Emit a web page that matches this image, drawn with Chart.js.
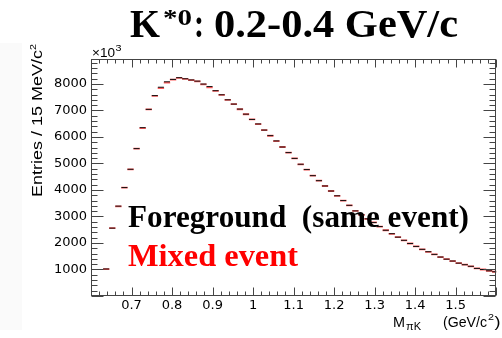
<!DOCTYPE html>
<html>
<head>
<meta charset="utf-8">
<script src="https://cdn.jsdelivr.net/npm/chart.js@4.4.1/dist/chart.umd.min.js"></script>
<style>
  html, body { margin: 0; padding: 0; background: #ffffff; }
  #wrap { position: relative; width: 502px; height: 338px; overflow: hidden; }
  #strip { position: absolute; left: 0; top: 43px; width: 22px; height: 287px; background: #fafafa; }
  canvas { position: absolute; left: 0; top: 0; }
</style>
</head>
<body>
<div id="wrap">
  <div id="strip"></div>
  <canvas id="c" width="502" height="338"></canvas>
</div>
<script>
// ---- data ----
const massBins = [
  0.6375, 0.6525, 0.6675, 0.6825, 0.6975, 0.7125, 0.7275, 0.7425, 0.7575, 0.7725,
  0.7875, 0.8025, 0.8175, 0.8325, 0.8475, 0.8625, 0.8775, 0.8925, 0.9075, 0.9225,
  0.9375, 0.9525, 0.9675, 0.9825, 0.9975, 1.0125, 1.0275, 1.0425, 1.0575, 1.0725,
  1.0875, 1.1025, 1.1175, 1.1325, 1.1475, 1.1625, 1.1775, 1.1925, 1.2075, 1.2225,
  1.2375, 1.2525, 1.2675, 1.2825, 1.2975, 1.3125, 1.3275, 1.3425, 1.3575, 1.3725,
  1.3875, 1.4025, 1.4175, 1.4325, 1.4475, 1.4625, 1.4775, 1.4925, 1.5075, 1.5225,
  1.5375, 1.5525, 1.5675, 1.5825, 1.5975
];
const foreground = [
  1020, 2560, 3390, 4090, 4780, 5560, 6350, 7040, 7560, 7875,
  8080, 8170, 8235, 8195, 8150, 8105, 7995, 7900, 7745, 7590,
  7400, 7240, 7050, 6860, 6660, 6490, 6260, 6050, 5850, 5620,
  5410, 5190, 4970, 4770, 4540, 4350, 4150, 3960, 3780, 3600,
  3420, 3210, 3060, 2910, 2770, 2620, 2480, 2350, 2220, 2100,
  1980, 1870, 1760, 1670, 1570, 1470, 1390, 1320, 1240, 1180,
  1120, 1040, 1000, 950, 915
];
const mixed = [
  1010, 2560, 3380, 4090, 4780, 5560, 6330, 7040, 7550, 7840,
  8050, 8160, 8225, 8190, 8145, 8095, 7985, 7870, 7740, 7590,
  7395, 7235, 7045, 6855, 6660, 6485, 6255, 6045, 5845, 5620,
  5405, 5190, 4965, 4765, 4540, 4350, 4150, 3960, 3775, 3600,
  3415, 3210, 3060, 2910, 2775, 2620, 2480, 2345, 2220, 2095,
  1980, 1870, 1760, 1665, 1570, 1470, 1390, 1315, 1240, 1180,
  1115, 1045, 1000, 950, 915
];
const xTicks = [0.7, 0.8, 0.9, 1.0, 1.1, 1.2, 1.3, 1.4, 1.5];
const yTicks = [1000, 2000, 3000, 4000, 5000, 6000, 7000, 8000];
const xRange = [0.6, 1.6];
const yRange = [0, 8940];

// ---- helpers ----
function fitText(ctx, text, x, y, w, font, color) {
  ctx.save();
  ctx.font = font;
  ctx.fillStyle = color;
  ctx.textAlign = 'left';
  ctx.textBaseline = 'alphabetic';
  const m = ctx.measureText(text).width;
  ctx.translate(x, y);
  ctx.scale(w / m, 1);
  ctx.fillText(text, 0, 0);
  ctx.restore();
}

const framePlugin = {
  id: 'rootFrame',
  afterDatasetsDraw(chart) {
    const ctx = chart.ctx;
    const a = chart.chartArea;
    const xs = chart.scales.x, ys = chart.scales.y;
    ctx.save();
    ctx.strokeStyle = '#444';
    ctx.lineWidth = 1;
    const L = Math.round(a.left) + 0.5, R = Math.round(a.right) - 0.5;
    const T = Math.round(a.top) + 0.5, B = Math.round(a.bottom) - 0.5;
    ctx.strokeRect(L, T, R - L, B - T);
    ctx.beginPath();
    // x ticks (every 0.02, major every 0.1)
    for (let i = 0; i <= 50; i++) {
      const v = xRange[0] + i * 0.02;
      const px = Math.round(xs.getPixelForValue(v)) + 0.5;
      const major = i % 5 === 0;
      const len = major ? 8 : 4;
      ctx.moveTo(px, B); ctx.lineTo(px, B - len);
      ctx.moveTo(px, T); ctx.lineTo(px, T + len);
    }
    // y ticks (every 200, major every 1000)
    for (let v = 0; v <= yRange[1]; v += 200) {
      const py = Math.round(ys.getPixelForValue(v)) + 0.5;
      const major = v % 1000 === 0;
      const len = major ? 12 : 6;
      ctx.moveTo(L, py); ctx.lineTo(L + len, py);
      ctx.moveTo(R, py); ctx.lineTo(R - len, py);
    }
    ctx.stroke();
    ctx.restore();
  },
  afterDraw(chart) {
    const ctx = chart.ctx;
    const serifB = (s) => 'bold ' + s + 'px "Liberation Serif", "Times New Roman", serif';
    const sans = (s) => s + 'px "Liberation Sans", Arial, sans-serif';
    // title
    fitText(ctx, 'K', 130, 37, 30, serifB(40), '#000');
    fitText(ctx, '*0', 163, 25, 29, serifB(23), '#000');
    fitText(ctx, ':', 194, 37, 10, serifB(40), '#000');
    fitText(ctx, '0.2-0.4 GeV/c', 214, 37, 244, serifB(40), '#000');
    // legend-like labels
    fitText(ctx, 'Foreground  (same event)', 128, 227, 341, serifB(31), '#000');
    fitText(ctx, 'Mixed event', 128, 266, 170, serifB(31), '#ff0000');
    // x10^3
    fitText(ctx, '\u00d710', 92, 57, 23, sans(12), '#000');
    fitText(ctx, '3', 115.5, 51, 6, sans(9), '#000');
    // x axis title
    fitText(ctx, 'M', 393, 327, 12, sans(14), '#000');
    fitText(ctx, '\u03c0K', 406, 330, 15, sans(10), '#000');
    fitText(ctx, '(GeV/c', 443, 327, 44, sans(14), '#000');
    fitText(ctx, '2', 488, 320, 6, sans(9), '#000');
    fitText(ctx, ')', 494.5, 327, 6, sans(14), '#000');
    // y axis title (rotated)
    ctx.save();
    ctx.translate(42, 197);
    ctx.rotate(-Math.PI / 2);
    fitText(ctx, 'Entries / 15 MeV/c', 0, 0, 147, sans(14), '#000');
    fitText(ctx, '2', 147, -6, 6, sans(9), '#000');
    ctx.restore();
  }
};

const toPts = (ys) => massBins.map((m, i) => ({ x: m, y: ys[i] }));

new Chart(document.getElementById('c'), {
  type: 'scatter',
  data: {
    datasets: [
      {
        label: 'Foreground (same event)',
        data: toPts(foreground),
        pointStyle: 'line',
        pointRadius: 3,
        pointBorderWidth: 1,
        borderColor: '#111111',
        backgroundColor: '#111111',
        order: 0
      },
      {
        label: 'Mixed event',
        data: toPts(mixed),
        pointStyle: 'line',
        pointRadius: 3.2,
        pointBorderWidth: 1.8,
        borderColor: 'rgba(255,50,50,0.8)',
        backgroundColor: 'rgba(255,50,50,0.8)',
        order: 1
      }
    ]
  },
  options: {
    responsive: false,
    animation: false,
    events: [],
    layout: { padding: { top: 59, right: 3, left: 0, bottom: 0 } },
    plugins: { legend: { display: false }, tooltip: { enabled: false }, title: { display: false } },
    scales: {
      x: {
        type: 'linear',
        min: xRange[0], max: xRange[1],
        grid: { display: false, drawTicks: false },
        border: { display: false },
        afterBuildTicks: (s) => { s.ticks = xTicks.map(v => ({ value: v })); },
        afterFit: (s) => { s.height = 42; },
        ticks: {
          autoSkip: false, maxRotation: 0, padding: 2,
          color: '#000',
          font: { family: '"DejaVu Sans", sans-serif', size: 13 },
          callback: (v) => String(Math.round(v * 10) / 10)
        }
      },
      y: {
        type: 'linear',
        min: yRange[0], max: yRange[1],
        grid: { display: false, drawTicks: false },
        border: { display: false },
        afterBuildTicks: (s) => { s.ticks = yTicks.map(v => ({ value: v })); },
        afterFit: (s) => { s.width = 91; },
        ticks: {
          autoSkip: false, padding: 4,
          color: '#000',
          font: { family: '"DejaVu Sans", sans-serif', size: 13 },
          callback: (v) => String(v)
        }
      }
    }
  },
  plugins: [framePlugin]
});
</script>
</body>
</html>
